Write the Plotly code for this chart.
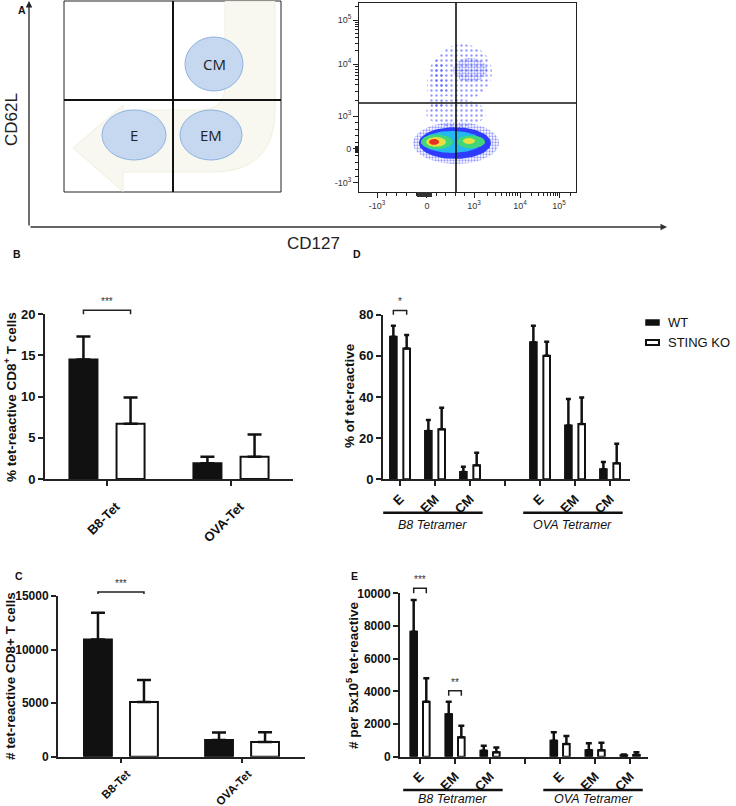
import math
import plotly.graph_objects as go

W, H = 736, 806
FONT = "Liberation Sans, Arial, sans-serif"

# ---------------- data ----------------
tet_groups = ["B8-Tet", "OVA-Tet"]
pct_wt = [14.5, 1.9]
pct_wt_sd = [2.8, 0.8]
pct_ko = [6.7, 2.7]
pct_ko_sd = [3.2, 2.7]

num_wt = [10950, 1560]
num_wt_sd = [2490, 710]
num_ko = [5100, 1380]
num_ko_sd = [2060, 900]

subsets = ["E", "EM", "CM"]
tetramers = ["B8 Tetramer", "OVA Tetramer"]
sub_pct_wt = [69.3, 23.5, 3.6, 66.6, 26.2, 4.9]
sub_pct_wt_sd = [5.3, 5.3, 2.5, 8.0, 12.8, 3.5]
sub_pct_ko = [63.6, 24.3, 6.8, 60.1, 26.9, 7.8]
sub_pct_ko_sd = [6.5, 10.5, 6.1, 6.8, 12.8, 9.5]

sub_num_wt = [7650, 2600, 370, 980, 390, 90]
sub_num_wt_sd = [1940, 770, 300, 510, 430, 40]
sub_num_ko = [3370, 1190, 270, 780, 390, 100]
sub_num_ko_sd = [1430, 710, 300, 490, 470, 170]

# flow plot: biexponential display positions (0-100) of decade ticks
flow_tick_text = ["-10<sup>3</sup>", "0", "10<sup>3</sup>", "10<sup>4</sup>", "10<sup>5</sup>"]
flow_x_ticks = [8.3, 31.3, 53.0, 74.2, 92.2]
flow_y_ticks = [4.8, 22.8, 40.2, 67.7, 91.0]
flow_gate_x = 44.7
flow_gate_y = 47.1
# density clusters: (cx, cy, rx, ry, style)
flow_clusters = [
    (47.5, 63.5, 13.8, 14.8, "sparse"),
    (51.2, 64.6, 7.8, 6.3, "dots"),
    (35.9, 56.6, 4.6, 13.2, "sparse"),
    (44.7, 41.8, 13.8, 7.4, "sparse"),
    (44.7, 25.9, 19.8, 11.1, "dots"),
    (44.2, 25.9, 16.6, 8.4, "blue"),
    (42.9, 26.5, 13.8, 5.8, "cyan"),
    (35.9, 26.5, 7.4, 3.9, "green"),
    (51.6, 26.5, 6.5, 3.4, "green"),
    (35.5, 26.5, 4.6, 2.6, "yellow"),
    (50.7, 27.0, 2.8, 1.6, "yellow"),
    (34.6, 26.5, 2.3, 1.6, "red"),
]

# ---------------- helpers ----------------
def pxp(x):
    return x / W

def pyp(y):
    return 1 - y / H

def lin(v, d0, d1, p0, p1):
    return p0 + (v - d0) * (p1 - p0) / (d1 - d0)

PANELS = {
    "B": dict(xa="x", ya="y", px=(45, 293), xr=(-0.5, 1.5), py=(479, 314.3), yr=(0, 20)),
    "C": dict(xa="x2", ya="y2", px=(58, 305), xr=(-0.52, 1.52), py=(756.7, 596), yr=(0, 15000)),
    "D": dict(xa="x3", ya="y3", px=(383, 630), xr=(-0.486, 6.57), py=(479.3, 314.7), yr=(0, 80)),
    "E": dict(xa="x4", ya="y4", px=(400, 648), xr=(-0.571, 6.51), py=(756.7, 593.3), yr=(0, 10000)),
}

def to_px(panel, xv, yv):
    p = PANELS[panel]
    return (lin(xv, p["xr"][0], p["xr"][1], p["px"][0], p["px"][1]),
            lin(yv, p["yr"][0], p["yr"][1], p["py"][0], p["py"][1]))

fig = go.Figure()
shapes = []
annotations = []

def add_text(x, y, text, size=12, bold=False, italic=False, angle=0, xanchor="center",
             yanchor="middle", color="#111", family=FONT):
    if bold:
        text = "<b>" + text + "</b>"
    if italic:
        text = "<i>" + text + "</i>"
    annotations.append(dict(
        x=pxp(x), y=pyp(y), xref="paper", yref="paper", text=text, showarrow=False,
        textangle=angle, xanchor=xanchor, yanchor=yanchor,
        font=dict(family=family, size=size, color=color)))

def add_line(x0, y0, x1, y1, width=1.0, color="#111"):
    shapes.append(dict(type="line", xref="paper", yref="paper",
                       x0=pxp(x0), y0=pyp(y0), x1=pxp(x1), y1=pyp(y1),
                       line=dict(color=color, width=width)))

def add_bars(panel, xs, wt, wt_sd, ko, ko_sd, width, shift, cap):
    p = PANELS[panel]
    for vals, sd, fill, sgn in ((wt, wt_sd, "#111111", -1), (ko, ko_sd, "#ffffff", 1)):
        fig.add_trace(go.Bar(
            x=xs, y=vals, width=width, offset=sgn * shift - width / 2,
            marker=dict(color=fill, line=dict(color="#111111", width=2)),
            error_y=dict(type="data", symmetric=False, array=sd, arrayminus=[0] * len(sd),
                         color="#111111", thickness=2.5, width=cap),
            xaxis=p["xa"], yaxis=p["ya"], showlegend=False, hoverinfo="skip"))

def bracket(panel, x0, x1, y_low, y_high, label, size=10):
    ax, ay0 = to_px(panel, x0, y_low)
    bx, ay1 = to_px(panel, x1, y_high)
    shapes.append(dict(type="path", xref="paper", yref="paper",
                       path=f"M {pxp(ax)},{pyp(ay0)} L {pxp(ax)},{pyp(ay1)} L {pxp(bx)},{pyp(ay1)} L {pxp(bx)},{pyp(ay0)}",
                       line=dict(color="#222", width=1.5)))
    add_text((ax + bx) / 2, ay1 - 1, label, size=size, yanchor="bottom", color="#333")

# ---------------- bar panels ----------------
cat_x = list(range(len(tet_groups)))
add_bars("B", cat_x, pct_wt, pct_wt_sd, pct_ko, pct_ko_sd, 0.226, 0.19, 7)
add_bars("C", cat_x, num_wt, num_wt_sd, num_ko, num_ko_sd, 0.23, 0.19, 7)

sub_x = [g * (len(subsets) + 1) + i for g in range(len(tetramers)) for i in range(len(subsets))]
add_bars("D", sub_x, sub_pct_wt, sub_pct_wt_sd, sub_pct_ko, sub_pct_ko_sd, 0.19, 0.19, 2.5)
add_bars("E", sub_x, sub_num_wt, sub_num_wt_sd, sub_num_ko, sub_num_ko_sd, 0.19, 0.18, 3)

layout_axes = {}
sub_ticks = list(range(2 * len(subsets) + 1))
sub_text = subsets + [""] + subsets
for key, (name, tv, tt, ytv, ysize, xsize, tlen, standoff, shift) in {
    "B": ("", cat_x, tet_groups, [0, 5, 10, 15, 20], 13, 13, 5, 8, 9),
    "C": ("2", cat_x, tet_groups, [0, 5000, 10000, 15000], 12, 11.5, 4, 0, 6),
    "D": ("3", sub_ticks, sub_text, [0, 20, 40, 60, 80], 13, 13, 5, 0, 0),
    "E": ("4", sub_ticks, sub_text, [0, 2000, 4000, 6000, 8000, 10000], 12, 13, 5, 0, 0),
}.items():
    p = PANELS[key]
    layout_axes["xaxis" + name] = dict(
        domain=[pxp(p["px"][0]), pxp(p["px"][1])], range=list(p["xr"]),
        anchor="y" + name, tickvals=tv, ticktext=["<b>%s</b>" % t for t in tt], tickangle=-45,
        ticks="outside", ticklen=tlen, tickwidth=2, tickcolor="#222",
        ticklabelstandoff=standoff, ticklabelshift=shift,
        showline=True, linewidth=2, linecolor="#222", showgrid=False, zeroline=False,
        tickfont=dict(family=FONT, size=xsize, color="#111"),
        fixedrange=True, automargin=False)
    layout_axes["yaxis" + name] = dict(
        domain=[pyp(p["py"][0]), pyp(p["py"][1])], range=list(p["yr"]),
        anchor="x" + name, tickvals=ytv, ticktext=["<b>%d</b>" % v for v in ytv],
        ticks="outside", ticklen=5, tickwidth=2, tickcolor="#222",
        showline=True, linewidth=2, linecolor="#222", showgrid=False, zeroline=False,
        tickfont=dict(family=FONT, size=ysize, color="#111"), fixedrange=True, automargin=False)

# axis titles
add_text(10, 397, "% tet-reactive CD8<sup>+</sup> T cells", size=13.5, bold=True, angle=-90)
add_text(10, 676, "# tet-reactive CD8+ T cells", size=13.5, bold=True, angle=-90)
add_text(349, 396, "% of tet-reactive", size=13.5, bold=True, angle=-90)
add_text(352, 675, "# per 5x10<sup>5</sup> tet-reactive", size=13.5, bold=True, angle=-90)

# significance brackets
bracket("B", -0.19, 0.19, 20, 20.5, "***")
bracket("C", -0.19, 0.19, 15180, 15370, "***")
bracket("D", -0.19, 0.19, 80, 82.1, "*")
bracket("E", -0.18, 0.18, 10000, 10306, "***")
bracket("E", 0.82, 1.18, 3733, 4040, "**")

# tetramer group lines
for panel, line_y, text_y in (("D", 512.7, 524.5), ("E", 790, 799)):
    for g, name in enumerate(tetramers):
        base = g * (len(subsets) + 1)
        xa, _ = to_px(panel, base - 0.48, 0)
        xb, _ = to_px(panel, base + 2.36, 0)
        add_line(xa, line_y, xb, line_y, width=2.5)
        add_text((xa + xb) / 2, text_y, name, size=12.5, italic=True)

# legend
shapes.append(dict(type="rect", xref="paper", yref="paper", x0=pxp(646), x1=pxp(659),
                   y0=pyp(325), y1=pyp(320), fillcolor="#111", line=dict(color="#111", width=1.5)))
shapes.append(dict(type="rect", xref="paper", yref="paper", x0=pxp(646), x1=pxp(659),
                   y0=pyp(345), y1=pyp(340), fillcolor="#fff", line=dict(color="#111", width=2)))
add_text(666, 322.5, "WT", size=13, xanchor="left")
add_text(666, 342.5, "STING KO", size=13, xanchor="left")

# panel letters
for letter, x, y in (("A", 22, 10), ("B", 17, 254), ("D", 357, 254), ("C", 19, 576), ("E", 354, 576)):
    add_text(x, y, letter, size=10.5, bold=True)

# ---------------- panel A: schematic ----------------
add_text(12, 120, "CD62L", size=17, angle=-90, color="#222")
add_text(313, 243, "CD127", size=17, color="#222")
annotations.append(dict(x=pxp(29), y=pyp(1), xref="paper", yref="paper", text="", showarrow=True,
                        ax=0, ay=226, arrowhead=2, arrowsize=1, arrowwidth=1.3, arrowcolor="#222"))
annotations.append(dict(x=pxp(667), y=pyp(227), xref="paper", yref="paper", text="", showarrow=True,
                        ax=-638, ay=0, arrowhead=2, arrowsize=1, arrowwidth=1.3, arrowcolor="#333"))

shapes.append(dict(type="rect", xref="paper", yref="paper", x0=pxp(64), x1=pxp(281),
                   y0=pyp(192), y1=pyp(1), fillcolor="white", line=dict(color="#222", width=1)))
path = (f"M {pxp(225)},{pyp(1.5)} L {pxp(275)},{pyp(1.5)} L {pxp(275)},{pyp(110)} "
        f"Q {pxp(275)},{pyp(172)} {pxp(213)},{pyp(172)} L {pxp(123)},{pyp(172)} "
        f"L {pxp(123)},{pyp(191.5)} L {pxp(73)},{pyp(148)} L {pxp(123)},{pyp(105)} "
        f"L {pxp(123)},{pyp(110)} L {pxp(200)},{pyp(110)} Q {pxp(225)},{pyp(110)} {pxp(225)},{pyp(85)} Z")
shapes.append(dict(type="path", xref="paper", yref="paper", path=path,
                   fillcolor="#f8f8f0", line=dict(color="#efefe0", width=1)))
add_line(173, 1, 173, 192, width=2, color="#111")
add_line(64, 100, 281, 100, width=2, color="#111")
for label, cx, cy, rx, ry in (("CM", 214, 64, 29, 27), ("E", 134, 135, 32, 25), ("EM", 211, 135, 31, 25)):
    shapes.append(dict(type="circle", xref="paper", yref="paper",
                       x0=pxp(cx - rx), x1=pxp(cx + rx), y0=pyp(cy + ry), y1=pyp(cy - ry),
                       fillcolor="#c5d8f0", line=dict(color="#8fb2e0", width=1)))
    add_text(cx, cy, label, size=15, color="#222", family="Open Sans, Liberation Sans, sans-serif")

# ---------------- panel A: flow plot ----------------
styles = {
    "sparse": dict(pattern=dict(shape=".", fgcolor="#2a35ff", bgcolor="rgba(0,0,0,0)", size=5, solidity=0.18)),
    "dots": dict(pattern=dict(shape=".", fgcolor="#2a35ff", bgcolor="rgba(0,0,0,0)", size=3, solidity=0.45)),
    "blue": dict(color="#2f3cff"),
    "cyan": dict(color="#22b8f0"),
    "green": dict(color="#3fd77a"),
    "yellow": dict(color="#e8e040"),
    "red": dict(color="#e8301c"),
}
N = 72
for cx, cy, rx, ry, st in flow_clusters:
    xs = [cx + rx * math.cos(2 * math.pi * k / N) for k in range(N + 1)]
    ys = [cy + ry * math.sin(2 * math.pi * k / N) for k in range(N + 1)]
    s = styles[st]
    kw = dict(fill="toself", mode="lines", line=dict(width=0), hoverinfo="skip", showlegend=False,
              xaxis="x5", yaxis="y5")
    if "pattern" in s:
        kw["fillcolor"] = "rgba(0,0,0,0)"
        kw["fillpattern"] = s["pattern"]
    else:
        kw["fillcolor"] = s["color"]
    fig.add_trace(go.Scatter(x=xs, y=ys, **kw))

def minor_positions(ticks):
    out = []
    for a, b in ((ticks[0], ticks[1]), (ticks[1], ticks[2])):
        out += [a + (b - a) * k / 5 for k in range(1, 5)]
    for a, b in ((ticks[2], ticks[3]), (ticks[3], ticks[4])):
        out += [a + (b - a) * math.log10(m) for m in range(2, 10)]
    step = ticks[4] - ticks[3]
    out += [ticks[4] + step * math.log10(m) for m in (2, 3)]
    return out

flow_font = dict(family=FONT, size=9, color="#333")
common_flow = dict(range=[0, 100], ticktext=flow_tick_text, ticks="outside", ticklen=5,
                   tickcolor="#222", showline=True, mirror=True, linecolor="#222", linewidth=1,
                   showgrid=False, zeroline=False, tickfont=flow_font, fixedrange=True, automargin=False)
layout_axes["xaxis5"] = dict(domain=[pxp(359), pxp(576)], anchor="y5", tickvals=flow_x_ticks,
                             minor=dict(tickvals=minor_positions(flow_x_ticks), ticks="outside", ticklen=3,
                                        tickcolor="#222", showgrid=False), **common_flow)
layout_axes["yaxis5"] = dict(domain=[pyp(192), pyp(3)], anchor="x5", tickvals=flow_y_ticks,
                             minor=dict(tickvals=minor_positions(flow_y_ticks), ticks="outside", ticklen=3,
                                        tickcolor="#222", showgrid=False), **common_flow)
shapes.append(dict(type="line", xref="x5", yref="y5", x0=flow_gate_x, x1=flow_gate_x, y0=0, y1=100,
                   line=dict(color="#111", width=1.6)))
shapes.append(dict(type="line", xref="x5", yref="y5", x0=0, x1=100, y0=flow_gate_y, y1=flow_gate_y,
                   line=dict(color="#111", width=1.6)))
# events piled on the axes
shapes.append(dict(type="rect", xref="paper", yref="paper", x0=pxp(355), x1=pxp(359),
                   y0=pyp(153), y1=pyp(146), fillcolor="#222", line=dict(width=0)))
shapes.append(dict(type="rect", xref="paper", yref="paper", x0=pxp(417), x1=pxp(432),
                   y0=pyp(197), y1=pyp(192), fillcolor="#333", line=dict(width=0)))

fig.update_layout(
    width=W, height=H, margin=dict(l=0, r=0, t=0, b=0, autoexpand=False),
    paper_bgcolor="white", plot_bgcolor="rgba(0,0,0,0)",
    barmode="overlay", showlegend=False,
    font=dict(family=FONT, color="#111"),
    shapes=shapes, annotations=annotations, **layout_axes)

fig.write_html("out.html", config={"displayModeBar": False},
               post_script="document.body.style.margin='0px';")
